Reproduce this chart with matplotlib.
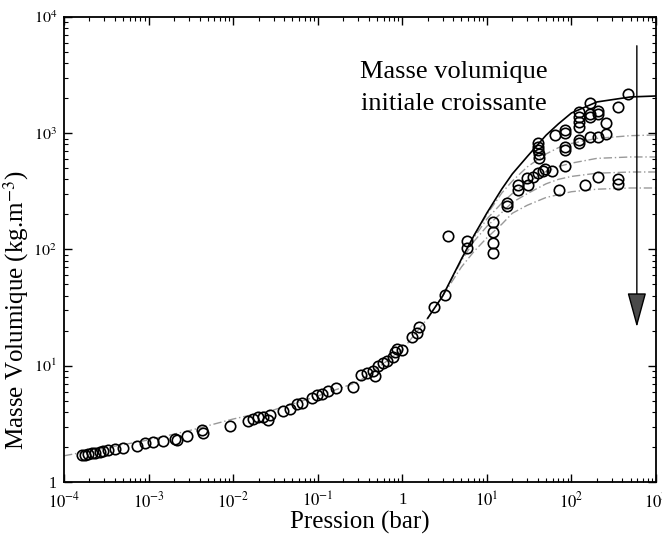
import numpy as np
import matplotlib.pyplot as plt
from matplotlib.ticker import FixedLocator, FixedFormatter, LogLocator, NullFormatter

plt.rcParams['font.family'] = ['Liberation Serif', 'DejaVu Serif']
plt.rcParams['mathtext.fontset'] = 'stix'

# courbe commune (basse pression)
p_base = [1e-4, 3e-4, 1e-3, 3e-3, 1e-2, 3e-2, 0.1, 0.3, 1, 2, 3]
rho_base = [1.68, 1.95, 2.30, 2.76, 3.48, 4.16, 5.49, 7.25, 13.7, 25.7, 39.8]

# courbe pleine
p_solid = [2, 3, 5, 7, 10, 15, 20, 30, 50, 70, 100, 200, 500, 1000]
rho_solid = [25.7, 39.8, 82.8, 131, 206, 331, 447, 630, 960, 1203, 1494, 1858, 2052, 2091]

# courbes en tirets-points
p_a = [7, 10, 15, 20, 30, 50, 70, 100, 200, 500, 1000]
rho_a = [131, 200, 306, 388, 513, 663, 751, 817, 903, 953, 966]
p_b = [5, 7, 10, 15, 20, 30, 50, 70, 100, 200, 500, 1000]
rho_b = [82.8, 126, 183, 251, 303, 377, 469, 517, 553, 608, 625, 625]
p_c = [3, 5, 7, 10, 15, 20, 30, 50, 70, 100, 200, 500, 1000]
rho_c = [39.8, 80, 117, 158, 208, 254, 302, 367, 401, 425, 453, 464, 464]
p_d = [3, 5, 7, 10, 15, 20, 30, 50, 70, 100, 200, 500, 1000]
rho_d = [39.8, 70.7, 95.7, 126, 165, 205, 240, 280, 296, 314, 330, 338, 338]

# points experimentaux
p_pts = [1.62e-4, 1.77e-4, 1.94e-4, 2.12e-4, 2.32e-4, 2.67e-4, 2.92e-4, 3.34e-4,
         4.01e-4, 5.02e-4, 7.23e-4, 9.06e-4, 1.14e-3, 1.47e-3, 2.05e-3, 2.15e-3,
         2.82e-3, 4.24e-3, 4.43e-3, 9.16e-3, 1.51e-2, 1.73e-2, 1.98e-2, 2.27e-2,
         2.60e-2, 2.72e-2, 3.91e-2, 4.69e-2, 5.63e-2, 6.45e-2, 8.47e-2, 9.87e-2,
         0.111, 0.133, 0.164, 0.263, 0.324, 0.378, 0.453, 0.474, 0.519, 0.594,
         0.652, 0.780, 0.818, 0.857, 0.982, 1.29, 1.48, 1.59, 2.38, 3.19,
         3.46, 5.88, 5.88, 11.7, 11.7, 11.7, 11.7, 17.5, 17.5, 23.5, 23.5,
         29.4, 30.8, 35.3, 40.4, 46.3, 48.5, 58.2, 40.4, 40.4, 40.4, 41.2, 41.2,
         63.7, 83.6, 83.6, 83.6, 83.6, 83.6, 71.0, 123, 123, 123, 123, 123, 123,
         165, 165, 165, 207, 207, 255, 165, 207, 255, 144, 207, 356, 468, 356, 356]
rho_pts = [1.71, 1.71, 1.74, 1.77, 1.79, 1.82, 1.86, 1.88,
           1.92, 1.95, 2.05, 2.15, 2.20, 2.27, 2.33, 2.30,
           2.49, 2.80, 2.66, 3.03, 3.37, 3.46, 3.60, 3.65,
           3.41, 3.77, 4.10, 4.22, 4.69, 4.75, 5.25, 5.60,
           5.68, 6.10, 6.40, 6.60, 8.28, 8.71, 9.06, 8.16, 9.95, 10.5,
           11.0, 12.0, 13.2, 13.9, 13.7, 17.6, 19.0, 21.7, 32.2, 40.6,
           131, 119, 102, 173, 142, 113, 92.6, 253, 237, 359, 322,
           410, 359, 423, 452, 476, 490, 476, 820, 766, 718, 663, 609,
           966, 1067, 1011, 766, 718, 522, 325, 1531, 1387, 1256, 1138, 875, 820,
           1832, 1466, 1372, 1563, 1466, 1218, 923, 923, 986, 359, 418, 1671, 2177, 402, 366]

fig = plt.figure(figsize=(6.62, 5.39), dpi=100)
ax = fig.add_axes([0.0967, 0.1058, 0.8943, 0.8627])
ax.set_xscale('log')
ax.set_yscale('log')

dd = dict(color='#999999', lw=1.0, dashes=(6, 2, 1, 2))
ax.plot(p_base, rho_base, **dd)
for p, r in [(p_a, rho_a), (p_b, rho_b), (p_c, rho_c), (p_d, rho_d)]:
    ax.plot(p, r, **dd)
ax.plot(p_solid, rho_solid, color='black', lw=1.2)
ax.plot(p_pts, rho_pts, 'o', mfc='none', mec='black', ms=7.5, mew=1.2)

# fleche
ax.annotate('', xy=(593, 20.3), xytext=(593, 5975),
            arrowprops=dict(arrowstyle='-|>,head_length=1.1,head_width=0.3',
                            mutation_scale=20, fc='#4a4a4a', ec='black', lw=1.0))

ax.text(0.659, 0.869, 'Masse volumique', transform=ax.transAxes,
        ha='center', va='baseline', fontsize=19)
ax.text(0.659, 0.800, 'initiale croissante', transform=ax.transAxes,
        ha='center', va='baseline', fontsize=19)

ax.set_xlim(1e-4, 1e3)
ax.set_ylim(1, 1e4)

xt = [1e-4, 1e-3, 1e-2, 1e-1, 1, 10, 100, 1000]
xl = [r'$10^{-4}$', r'$10^{-3}$', r'$10^{-2}$', r'$10^{-1}$', '1',
      r'$10^{1}$', r'$10^{2}$', r'$10^{3}$']
yt = [1, 10, 100, 1000, 10000]
yl = ['1', r'$10^{1}$', r'$10^{2}$', r'$10^{3}$', r'$10^{4}$']
ax.xaxis.set_major_locator(FixedLocator(xt))
ax.xaxis.set_major_formatter(FixedFormatter(xl))
ax.yaxis.set_major_locator(FixedLocator(yt))
ax.yaxis.set_major_formatter(FixedFormatter(yl))
ax.xaxis.set_minor_locator(LogLocator(base=10, subs=np.arange(2, 10), numticks=20))
ax.yaxis.set_minor_locator(LogLocator(base=10, subs=np.arange(2, 10), numticks=20))
ax.xaxis.set_minor_formatter(NullFormatter())
ax.yaxis.set_minor_formatter(NullFormatter())

ax.tick_params(which='both', direction='in', top=True, right=True, labelsize=12)
ax.tick_params(which='major', length=6, width=1.0, pad=7)
ax.tick_params(axis='y', which='major', pad=5, labelsize=11.5)
ax.tick_params(which='minor', length=3, width=0.8)
for s in ax.spines.values():
    s.set_linewidth(1.3)

ax.set_xlabel('Pression (bar)', fontsize=18)
ax.set_ylabel('Masse Volumique (kg.m$^{-3}$)', fontsize=18)
ax.xaxis.set_label_coords(0.5, -0.062)
ax.yaxis.set_label_coords(-0.056, 0.37)

plt.savefig('out.png', dpi=100)
